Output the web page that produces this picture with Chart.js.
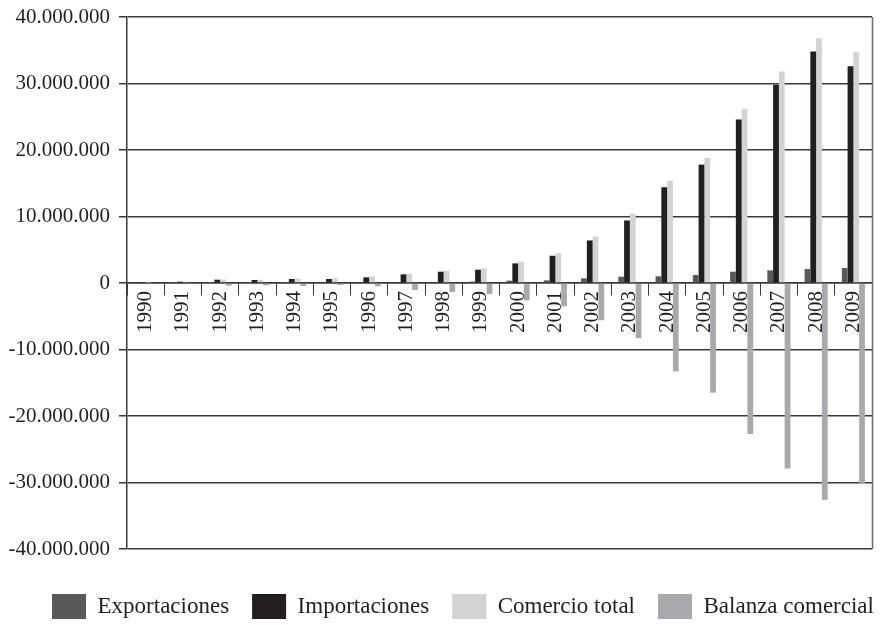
<!DOCTYPE html>
<html>
<head>
<meta charset="utf-8">
<script src="https://cdn.jsdelivr.net/npm/chart.js@4/dist/chart.umd.min.js"></script>
<style>
  html, body { margin: 0; padding: 0; background: #fff; }
  #wrap { width: 890px; height: 625px; }
</style>
</head>
<body>
<div id="wrap"><canvas id="myChart" width="890" height="625"></canvas></div>
<script>
const years = ["1990", "1991", "1992", "1993", "1994", "1995", "1996", "1997", "1998", "1999",
    "2000", "2001", "2002", "2003", "2004", "2005", "2006", "2007", "2008", "2009"];

const exportaciones = [0, 10000, 30000, 30000, 50000, 100000, 100000, 100000, 150000, 200000,
    350000, 400000, 700000, 950000, 1000000, 1200000, 1700000, 1900000, 2100000, 2250000];

const importaciones = [50000, 200000, 500000, 450000, 600000, 600000, 850000, 1300000, 1700000, 2000000,
    2950000, 4100000, 6400000, 9400000, 14400000, 17800000, 24600000, 29800000, 34800000, 32600000];

const comercioTotal = [50000, 210000, 530000, 480000, 650000, 700000, 1000000, 1400000, 1850000, 2200000,
    3200000, 4500000, 7000000, 10400000, 15400000, 18800000, 26200000, 31800000, 36800000, 34700000];

const balanzaComercial = [0, -150000, -400000, -350000, -450000, -300000, -500000, -1050000, -1350000, -1650000,
    -2600000, -3500000, -5600000, -8300000, -13300000, -16500000, -22700000, -27900000, -32600000, -30200000];

const yTicks = [-40000000, -30000000, -20000000, -10000000, 0, 10000000, 20000000, 30000000, 40000000];

const textColor = "#231f20";
const lineColor = "#3a3a3a";
const serif = "'Liberation Serif', 'Times New Roman', serif";

// 40000000 -> "40.000.000"
function puntos(n) {
    const s = Math.abs(n).toString().replace(/\B(?=(\d{3})+(?!\d))/g, ".");
    return (n < 0 ? "-" : "") + s;
}

// legend sits lower and a bit to the right; plot box gets a right-hand edge
const frame = {
    id: "frame",
    afterLayout(chart) {
        const lg = chart.legend;
        lg.left += 27;
        lg.right += 27;
        lg.top += 22;
        lg.bottom += 22;
    },
    afterDraw(chart) {
        const ctx = chart.ctx;
        const a = chart.chartArea;
        ctx.save();
        ctx.strokeStyle = "#6a6a6a";
        ctx.lineWidth = 1.5;
        ctx.beginPath();
        ctx.moveTo(Math.round(a.right) + 0.5, a.top);
        ctx.lineTo(Math.round(a.right) + 0.5, a.bottom);
        ctx.stroke();
        ctx.restore();
    }
};

Chart.defaults.font.family = serif;
Chart.defaults.font.size = 21;
Chart.defaults.color = textColor;

const myChart = new Chart("myChart", {
    type: "bar",
    data: {
        labels: years,
        datasets: [
            { label: "Exportaciones", data: exportaciones, backgroundColor: "#58595b" },
            { label: "Importaciones", data: importaciones, backgroundColor: "#231f20" },
            { label: "Comercio total", data: comercioTotal, backgroundColor: "#d1d3d4" },
            { label: "Balanza comercial", data: balanzaComercial, backgroundColor: "#a7a9ac" }
        ]
    },
    options: {
        responsive: false,
        animation: false,
        devicePixelRatio: 1,
        categoryPercentage: 0.62,
        barPercentage: 1,
        borderWidth: 0,
        layout: {
            padding: { top: 0, left: 0, right: 18, bottom: 18 }
        },
        plugins: {
            tooltip: { enabled: false },
            legend: {
                position: "bottom",
                labels: {
                    boxWidth: 34,
                    boxHeight: 25,
                    padding: 23,
                    color: textColor,
                    font: { size: 23, family: serif }
                }
            }
        },
        scales: {
            x: {
                position: { y: 0 },
                grid: {
                    drawOnChartArea: false,
                    drawTicks: true,
                    tickLength: 12,
                    color: lineColor,
                    lineWidth: 1
                },
                border: { display: true, color: lineColor, width: 1.5 },
                ticks: {
                    autoSkip: false,
                    minRotation: 90,
                    maxRotation: 90,
                    padding: -4,
                    color: textColor,
                    font: { size: 21, family: serif }
                }
            },
            y: {
                min: -40000000,
                max: 40000000,
                afterFit(scale) {
                    scale.width = 127;
                    scale.paddingTop = 17;
                },
                afterBuildTicks(scale) {
                    scale.ticks = yTicks.map(v => ({ value: v }));
                },
                grid: {
                    color: lineColor,
                    lineWidth: 1.5,
                    tickLength: 8
                },
                border: { display: true, color: lineColor, width: 1.5 },
                ticks: {
                    padding: 9,
                    color: textColor,
                    font: { size: 21, family: serif },
                    callback: value => puntos(value)
                }
            }
        }
    },
    plugins: [frame]
});
</script>
</body>
</html>
